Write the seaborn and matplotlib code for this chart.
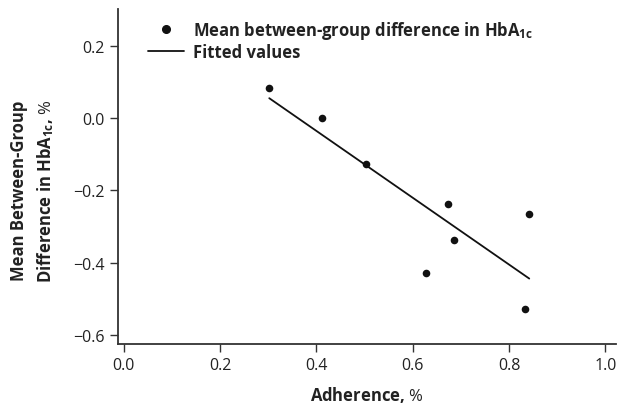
import matplotlib
matplotlib.use("Agg")
import matplotlib.pyplot as plt
import seaborn as sns
import pandas as pd

adherence = [0.302, 0.412, 0.503, 0.673, 0.686, 0.628, 0.842, 0.833]
hba1c_diff = [0.083, 0.000, -0.126, -0.237, -0.336, -0.427, -0.264, -0.527]
x_ticks = [0.0, 0.2, 0.4, 0.6, 0.8, 1.0]
y_ticks = [0.2, 0.0, -0.2, -0.4, -0.6]

df = pd.DataFrame({"adherence": adherence, "diff": hba1c_diff})

sns.set_style("ticks")
plt.rcParams['font.family'] = ['Open Sans', 'DejaVu Sans']
plt.rcParams['mathtext.fontset'] = 'custom'
plt.rcParams['mathtext.rm'] = 'Open Sans'
plt.rcParams['mathtext.it'] = 'Open Sans:italic'
plt.rcParams['mathtext.bf'] = 'Open Sans:bold'

fig = plt.figure(figsize=(6.19, 4.10), dpi=100)
ax = fig.add_axes([0.19, 0.158, 0.805, 0.818])

sns.regplot(data=df, x="adherence", y="diff", ci=None, ax=ax,
            scatter_kws=dict(s=30, color="#111111", alpha=1, linewidths=0, zorder=3),
            line_kws=dict(color="#111111", lw=1.3),
            truncate=True)

ax.set_xlim(-0.013, 1.022)
ax.set_ylim(-0.625, 0.302)
ax.set_xticks(x_ticks)
ax.set_xticklabels([f"{v:.1f}" for v in x_ticks])
ax.set_yticks(y_ticks)
ax.set_yticklabels([f"{v:.1f}".replace("-", "\u2212") for v in y_ticks])
ax.tick_params(direction="out", length=6, width=1.0, color="#333333",
               labelsize=11.5, labelcolor="#222222", pad=3)
for s in ["left", "bottom"]:
    ax.spines[s].set_color("#333333")
    ax.spines[s].set_linewidth(1.3)
sns.despine(ax=ax)

ax.set_xlabel(r"Adherence, $\mathit{\%}$", fontsize=12, fontweight="bold",
              color="#222222", labelpad=8)
ax.set_ylabel("Mean Between-Group\n" + r"Difference in HbA$_{\mathbf{1c}}$, $\mathit{\%}$",
              fontsize=12, fontweight="bold", color="#222222",
              linespacing=1.45)
ax.yaxis.set_label_coords(-0.123, 0.46)

from matplotlib.lines import Line2D
handles = [
    Line2D([], [], marker="o", ls="none", color="#111111", markersize=5.5),
    Line2D([], [], color="#111111", lw=1.3),
]
labels = [r"Mean between-group difference in HbA$_{\mathbf{1c}}$", "Fitted values"]
leg = ax.legend(handles, labels, loc="upper left", bbox_to_anchor=(0.03, 1.015),
                frameon=False, prop=dict(size=12, weight="bold"),
                handlelength=2.2, handletextpad=0.5, labelspacing=0.15)
for t in leg.get_texts():
    t.set_color("#222222")

fig.savefig("out.png", dpi=100)
